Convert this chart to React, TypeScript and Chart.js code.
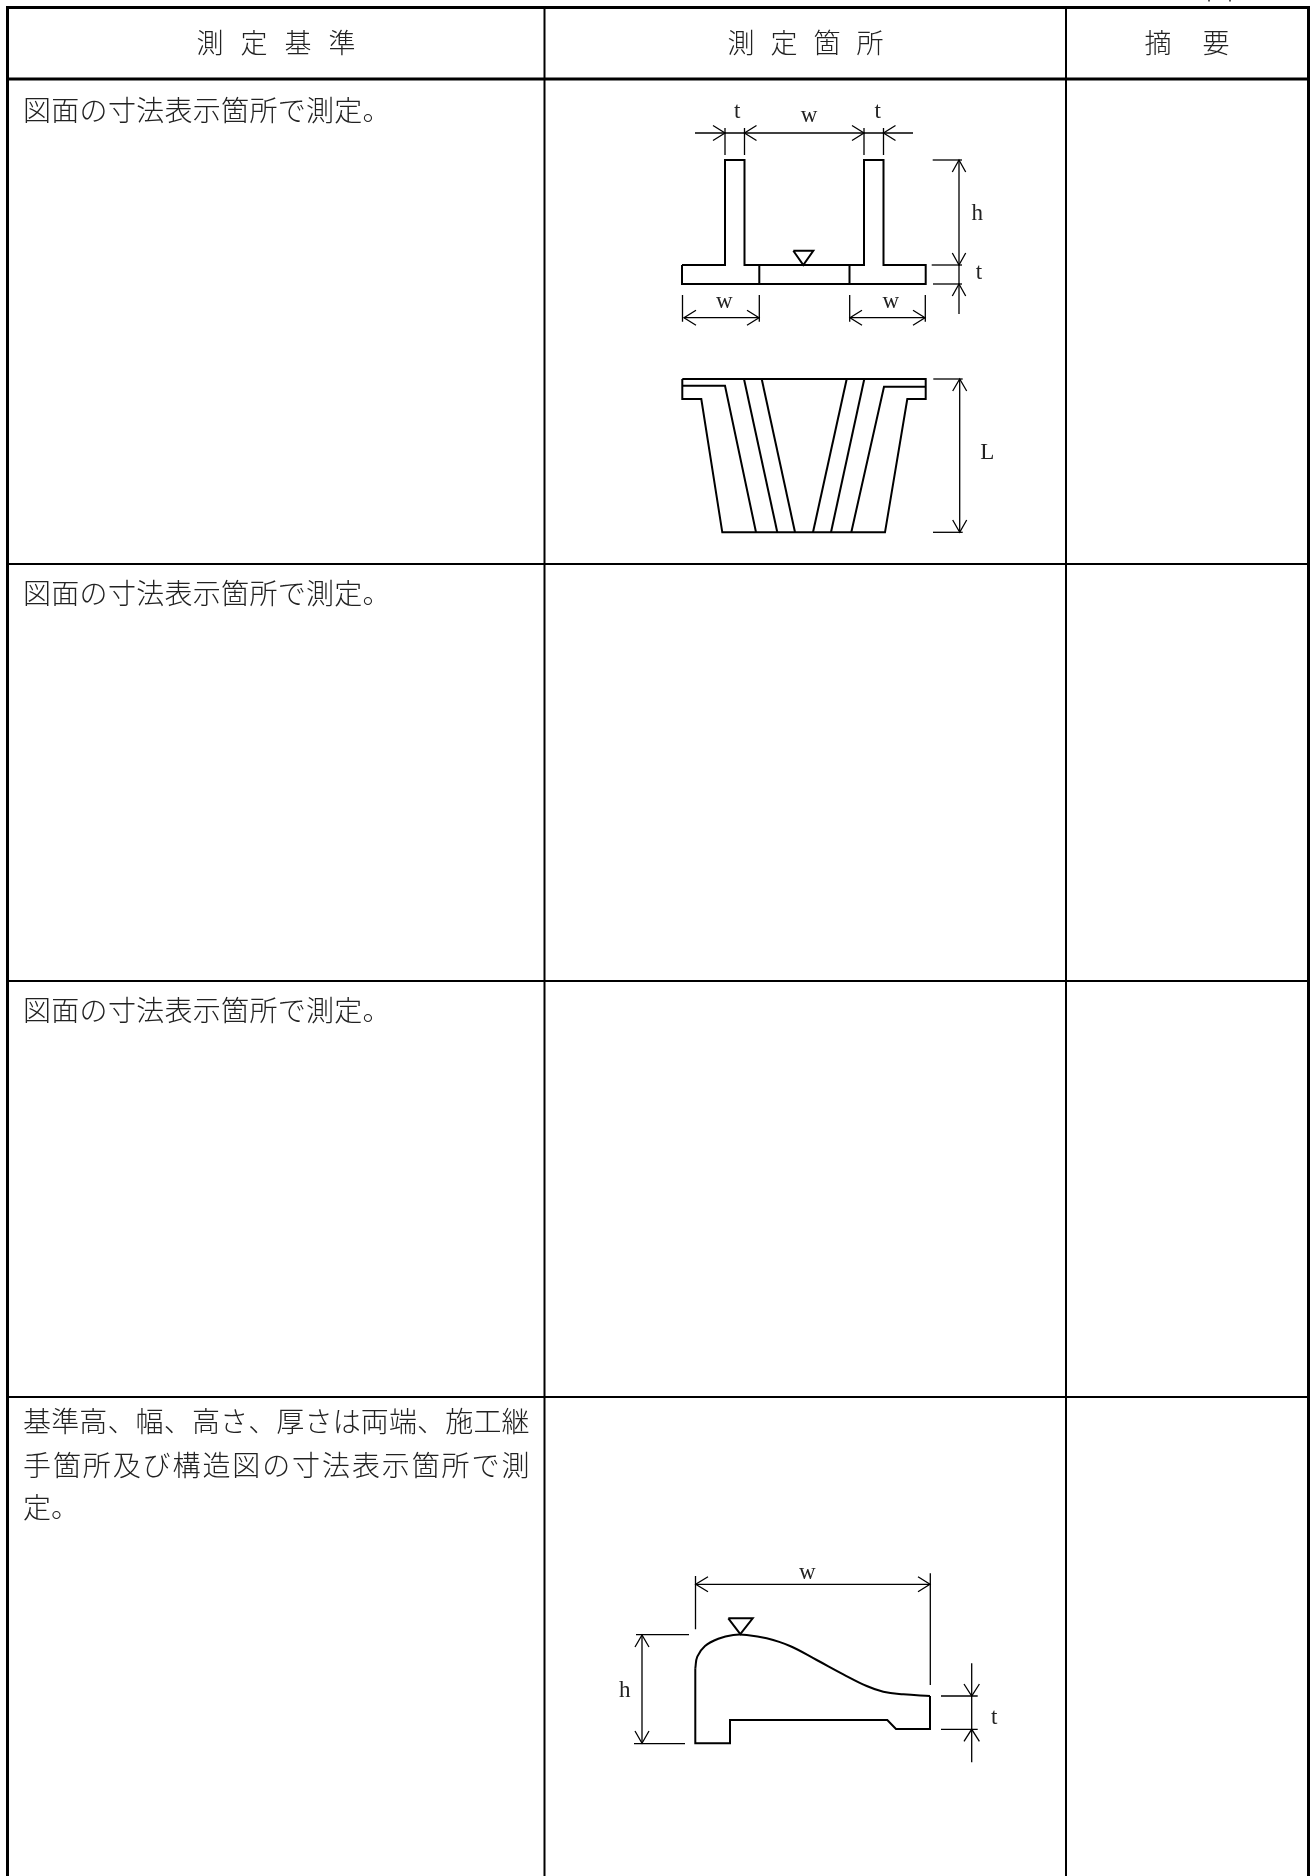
import React, { useEffect, useRef } from "react";
import { Chart, registerables } from "chart.js";

Chart.register(...registerables);

const W = 1311;
const H = 1876;
type P = [number, number];
const BODY_FONT = '"Noto Sans CJK JP"';
const LATIN_FONT = '"Liberation Serif"';

// Table rules
const outerBorder: P[] = [[7.5, 1876], [7.5, 7.5], [1308.5, 7.5], [1308.5, 1876]];
const headerRule: P[] = [[7.5, 79], [1308.5, 79]];
const columnRules: P[][] = [
  [[544.5, 79], [544.5, 1876]],
  [[1066, 79], [1066, 1876]],
];
const headerColumnRules: P[][] = [
  [[544.5, 7], [544.5, 79]],
  [[1066, 7], [1066, 79]],
];
const rowRules: P[][] = [
  [[8, 564], [1307, 564]],
  [[8, 981], [1307, 981]],
  [[8, 1397], [1307, 1397]],
];
const cutOffMarks: P[][] = [
  [[1209, 0], [1209, 1.5]],
  [[1230, 0], [1230, 1.5]],
];

// T-shaped cross section
const tSectionOutline: P[] = [
  [682, 265], [725, 265], [725, 160], [744.5, 160], [744.5, 265], [864, 265], [864, 160], [883.5, 160],
  [883.5, 265], [925.7, 265], [925.7, 284], [682, 284], [682, 265],
];
const tSectionJoints: P[][] = [
  [[759.3, 265], [759.3, 284]],
  [[849.5, 265], [849.5, 284]],
];
const tSectionMark: P[] = [[793.3, 250.7], [813.3, 250.7], [803.3, 265], [793.3, 250.7]];
const tSectionDims: P[][] = [
  [[695, 133], [913, 133]],
  [[725, 128], [725, 155]], [[744.5, 128], [744.5, 155]], [[864, 128], [864, 155]], [[883.5, 128], [883.5, 155]],
  [[959, 160], [959, 314]],
  [[932.7, 160], [962, 160]], [[931.7, 265], [962, 265]], [[933, 284], [962, 284]],
  [[682.5, 295], [682.5, 321.7]], [[759.3, 295], [759.3, 321.7]], [[849.7, 295], [849.7, 321.7]], [[925.3, 295], [925.3, 321.7]],
  [[684, 317.7], [759, 317.7]], [[850, 317.7], [925, 317.7]],
];
const tSectionArrows: P[][] = [
  [[713, 125.5], [725, 133], [713, 140.5]],
  [[756.5, 125.5], [744.5, 133], [756.5, 140.5]],
  [[852, 125.5], [864, 133], [852, 140.5]],
  [[895.5, 125.5], [883.5, 133], [895.5, 140.5]],
  [[952.3, 172], [959, 160], [965.7, 172]],
  [[952.3, 253], [959, 265], [965.7, 253]],
  [[952.3, 296], [959, 284], [965.7, 296]],
  [[696, 310.2], [684, 317.7], [696, 325.2]],
  [[747, 310.2], [759, 317.7], [747, 325.2]],
  [[862, 310.2], [850, 317.7], [862, 325.2]],
  [[913, 310.2], [925, 317.7], [913, 325.2]],
];

// Plan view
const planOutline: P[] = [
  [682.3, 379], [925.7, 379], [925.7, 399], [907.3, 399], [885, 532.3], [722.3, 532.3], [701.3, 399], [682.3, 399], [682.3, 379],
];
const planLines: P[][] = [
  [[682.3, 385.7], [725, 385.7], [756, 532.3]],
  [[925.7, 386.7], [884, 386.7], [851.3, 532.3]],
  [[744, 379], [777.3, 532.3]],
  [[761.7, 379], [795, 532.3]],
  [[846.7, 379], [813, 532.3]],
  [[864.3, 379], [831, 532.3]],
];
const planDims: P[][] = [
  [[959.7, 379], [959.7, 532.3]],
  [[933.3, 379], [962.7, 379]],
  [[933, 532.3], [962.7, 532.3]],
];
const planArrows: P[][] = [
  [[952.7, 391], [959.7, 379], [966.7, 391]],
  [[952.7, 520], [959.7, 532.3], [966.7, 520]],
];

// Curved section
const curbOutline: P[] = [
  [695.3, 1668.3], [695.3, 1743.3], [730, 1743.3], [730, 1720], [887.3, 1720], [896, 1729], [930, 1729], [930, 1696],
];
const curbCurve: P[] = [
  [695.3, 1668.3], [697.3, 1656.7], [705, 1646], [718.3, 1638.7], [733.3, 1635], [746.7, 1635], [766.7, 1638.3],
  [790, 1646], [816.7, 1660], [843.3, 1674.3], [866.7, 1686], [883.3, 1691.7], [903.3, 1694.3], [930, 1696],
];
const curbMark: P[] = [[728.3, 1618.3], [752.7, 1618.3], [740.3, 1634], [728.3, 1618.3]];
const curbDims: P[][] = [
  [[695.7, 1584.3], [930, 1584.3]],
  [[695.5, 1576], [695.5, 1629.3]],
  [[930.3, 1573.3], [930.3, 1685]],
  [[642, 1635], [642, 1743.3]],
  [[636, 1634.7], [689, 1634.7]],
  [[634, 1743.7], [685, 1743.7]],
  [[971.7, 1663.3], [971.7, 1762.3]],
  [[941, 1696], [977.7, 1696]],
  [[941, 1729.3], [977.7, 1729.3]],
];
const curbArrows: P[][] = [
  [[708, 1576.8], [695.7, 1584.3], [708, 1591.8]],
  [[918, 1576.8], [930, 1584.3], [918, 1591.8]],
  [[635, 1647], [642, 1635], [649, 1647]],
  [[635, 1731], [642, 1743.3], [649, 1731]],
  [[964, 1684], [971.7, 1696], [979.4, 1684]],
  [[964, 1741.3], [971.7, 1729.3], [979.4, 1741.3]],
];

// Text
type Label = [string, number, number];
type Line = [string, number, number, number];
const headerLabels: Label[] = [
  ["測", 210, 43], ["定", 254, 43], ["基", 298, 43], ["準", 342, 43],
  ["測", 741, 43], ["定", 784, 43], ["箇", 827, 43], ["所", 870, 43],
  ["摘", 1158, 43], ["要", 1216, 43],
];
const bodyLines: Line[] = [
  ["図面の寸法表示箇所で測定。", 23, 110, 0.3],
  ["図面の寸法表示箇所で測定。", 23, 593, 0.3],
  ["図面の寸法表示箇所で測定。", 23, 1010, 0.3],
  ["基準高、幅、高さ、厚さは両端、施工継", 23, 1421, 0.15],
  ["手箇所及び構造図の寸法表示箇所で測", 23, 1465, 1.9],
  ["定。", 23, 1507, 0],
];
const dimLabels: Label[] = [
  ["t", 737.3, 112], ["w", 809, 116], ["t", 877.7, 112], ["h", 977.3, 214], ["t", 979, 273],
  ["w", 724.3, 301.7], ["w", 890.7, 301.7], ["L", 987.3, 453],
  ["w", 807.3, 1572.7], ["h", 624.7, 1691], ["t", 994.3, 1718],
];

const thick = [outerBorder, headerRule];
const medium = [...columnRules, ...headerColumnRules, ...rowRules];
const drawing = [tSectionOutline, ...tSectionJoints, tSectionMark, planOutline, ...planLines, curbOutline, curbMark];
const fine = [
  ...tSectionDims, ...tSectionArrows, ...planDims, ...planArrows, ...curbDims, ...curbArrows, ...cutOffMarks,
];

const toSet = (pts: P[], width: number, tension = 0) => ({
  data: pts.map(([x, y]) => ({ x, y })),
  borderColor: "#000",
  borderWidth: width,
  pointRadius: 0,
  showLine: true,
  fill: false,
  tension,
  clip: false as const,
});

const textPlugin = {
  id: "tableText",
  afterDatasetsDraw(chart: any) {
    const { ctx, scales } = chart;
    const px = (x: number) => scales.x.getPixelForValue(x);
    const py = (y: number) => scales.y.getPixelForValue(y);
    ctx.save();
    ctx.textBaseline = "middle";
    ctx.fillStyle = "#222";
    ctx.font = `300 27px ${BODY_FONT}`;
    ctx.textAlign = "center";
    headerLabels.forEach(([s, x, y]) => ctx.fillText(s, px(x), py(y)));
    ctx.font = `300 28px ${BODY_FONT}`;
    ctx.textAlign = "left";
    bodyLines.forEach(([s, x, y, spacing]) => {
      ctx.letterSpacing = `${spacing}px`;
      ctx.fillText(s, px(x), py(y));
    });
    ctx.letterSpacing = "0px";
    ctx.font = `23px ${LATIN_FONT}`;
    ctx.textAlign = "center";
    dimLabels.forEach(([s, x, y]) => ctx.fillText(s, px(x), py(y)));
    ctx.restore();
  },
};

export default function App() {
  const ref = useRef<HTMLCanvasElement>(null);
  useEffect(() => {
    document.body.style.margin = "0";
    document.body.style.background = "#fff";
    const chart = new Chart(ref.current!, {
      type: "scatter",
      data: {
        datasets: [
          ...thick.map((p) => toSet(p, 3)),
          ...medium.map((p) => toSet(p, 2)),
          ...drawing.map((p) => toSet(p, 2)),
          toSet(curbCurve, 2, 0.4),
          ...fine.map((p) => toSet(p, 1.3)),
        ],
      },
      options: {
        animation: false,
        responsive: false,
        layout: { padding: 0 },
        plugins: { legend: { display: false }, tooltip: { enabled: false }, title: { display: false } },
        scales: {
          x: { type: "linear", min: 0, max: W, display: false },
          y: { type: "linear", min: 0, max: H, reverse: true, display: false },
        },
      },
      plugins: [textPlugin],
    });
    return () => chart.destroy();
  }, []);
  return <canvas ref={ref} width={W} height={H} style={{ display: "block", width: W, height: H }} />;
}
